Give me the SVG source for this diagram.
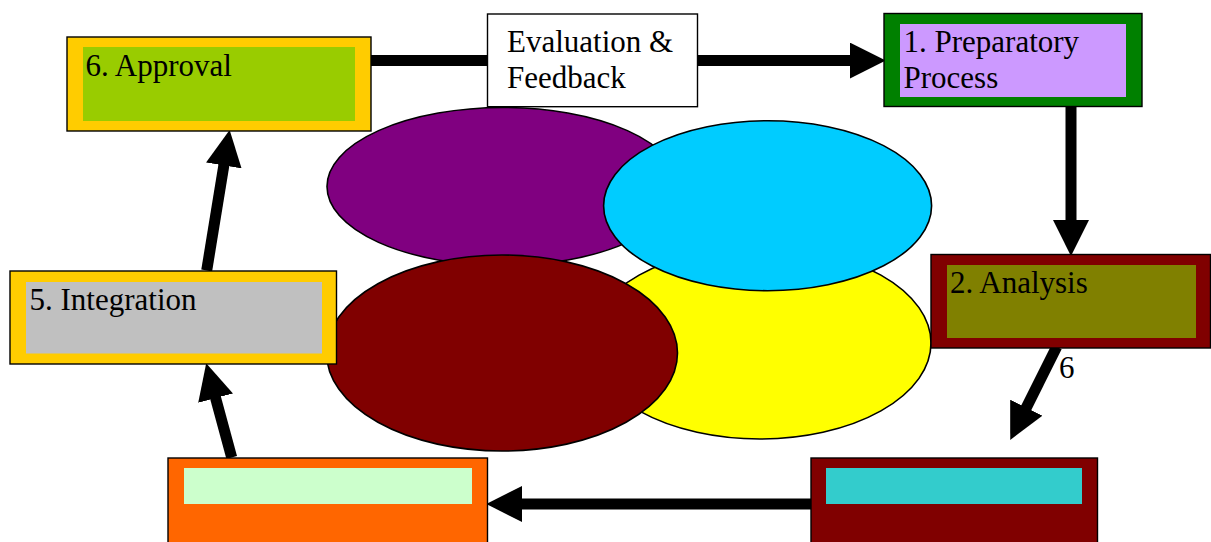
<svg xmlns="http://www.w3.org/2000/svg" width="1211" height="542" viewBox="0 0 1211 542">
<style>
.box{stroke:#000;stroke-width:1.4}
.ell{stroke:#000;stroke-width:1.6}
.lbl{font-family:"Liberation Serif","Times New Roman",serif;font-size:31px;fill:#000}
.conn{stroke:#000;stroke-width:11;fill:none}
</style>
<defs>
<marker id="head" markerUnits="userSpaceOnUse" markerWidth="36" markerHeight="36" viewBox="0 0 34 34" refX="4" refY="17" orient="auto">
<path d="M0,0 L34,17 L0,34 Z" fill="#000"/>
</marker>
</defs>
<rect width="1211" height="542" fill="#fff"/>
<g id="ellipses">
<ellipse id="e-purple" class="ell" cx="503" cy="186.5" rx="176" ry="79" fill="#800080"/>
<ellipse id="e-yellow" class="ell" cx="760" cy="343" rx="171" ry="96" fill="#FFFF00"/>
<ellipse id="e-cyan" class="ell" cx="767.6" cy="205.7" rx="164" ry="85" fill="#00CCFF"/>
<ellipse id="e-maroon" class="ell" cx="502" cy="353" rx="175.5" ry="98" fill="#800000"/>
</g>
<g id="connectors">
<line class="conn" x1="371" y1="60.5" x2="854" y2="60.5" marker-end="url(#head)"/>
<line class="conn" x1="1071" y1="107" x2="1071" y2="224.3" marker-end="url(#head)"/>
<line class="conn" x1="1056.7" y1="346.7" x2="1024.4" y2="411.5" marker-end="url(#head)"/>
<line class="conn" x1="811" y1="504" x2="518" y2="504" marker-end="url(#head)"/>
<line class="conn" x1="231.7" y1="457.5" x2="214.5" y2="394" marker-end="url(#head)"/>
<line class="conn" x1="206.7" y1="270.5" x2="224.5" y2="161.3" marker-end="url(#head)"/>
<text class="lbl" x="1059" y="378" font-size="28">6</text>
</g>
<g id="label-evaluation">
<rect class="box" x="487.5" y="14" width="210" height="92.7" fill="#fff"/>
<text class="lbl" x="507" y="51.7">Evaluation &amp;</text>
<text class="lbl" x="507" y="87.7">Feedback</text>
</g>
<g id="node-approval">
<rect class="box" x="67" y="37" width="304" height="94" fill="#FFCC00"/>
<rect x="83" y="47" width="272" height="74" fill="#99CC00"/>
<text class="lbl" x="85.5" y="76">6. Approval</text>
</g>
<g id="node-preparatory">
<rect class="box" x="884" y="13.5" width="258" height="93" fill="#008000"/>
<rect x="900" y="24" width="226" height="73" fill="#CC99FF"/>
<text class="lbl" x="903.5" y="51.7">1. Preparatory</text>
<text class="lbl" x="903.5" y="88.3">Process</text>
</g>
<g id="node-analysis">
<rect class="box" x="931" y="254.5" width="279.5" height="93.5" fill="#800000"/>
<rect x="947" y="265" width="249" height="73" fill="#808000"/>
<text class="lbl" x="950" y="293.3">2. Analysis</text>
</g>
<g id="node-step3">
<rect class="box" x="811" y="458" width="286.5" height="120" fill="#800000"/>
<rect x="826" y="468" width="256" height="36" fill="#33CCCC"/>
</g>
<g id="node-step4">
<rect class="box" x="168" y="458" width="319.5" height="120" fill="#FF6600"/>
<rect x="184" y="468" width="288" height="36" fill="#CCFFCC"/>
</g>
<g id="node-integration">
<rect class="box" x="10" y="271" width="326.5" height="93" fill="#FFCC00"/>
<rect x="26" y="282" width="296" height="71.5" fill="#C0C0C0"/>
<text class="lbl" x="29.5" y="310">5. Integration</text>
</g>
</svg>
